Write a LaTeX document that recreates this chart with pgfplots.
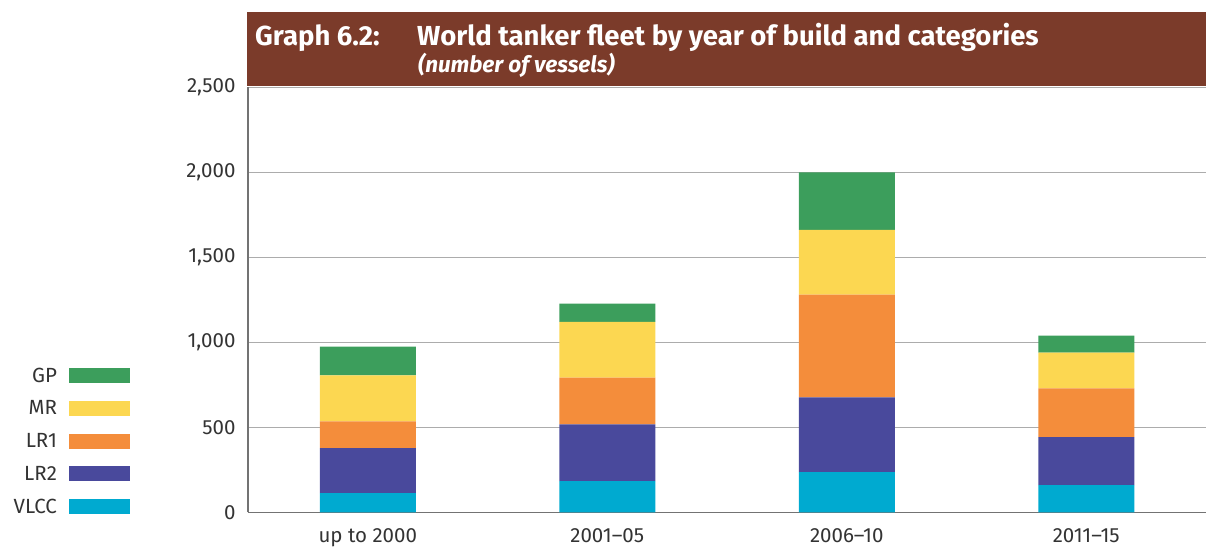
\documentclass[border=0pt]{standalone}
\usepackage{fontspec}
\setmainfont{Fira Sans}
\usepackage{pgfplots}
\pgfplotsset{compat=1.18}
\definecolor{cGP}{HTML}{3C9E5C}
\definecolor{cMR}{HTML}{FCD751}
\definecolor{cLRone}{HTML}{F48D3B}
\definecolor{cLRtwo}{HTML}{49499C}
\definecolor{cVLCC}{HTML}{00AAD0}
\definecolor{hdr}{HTML}{7B3B2A}
\definecolor{txt}{HTML}{333333}
\begin{document}
\begin{tikzpicture}[x=1pt,y=1pt]
\useasboundingbox (0,0) rectangle (1206,548);
\begin{axis}[
  at={(248pt,35.5pt)}, anchor=south west,
  scale only axis, width=958pt, height=425pt,
  ybar stacked, bar width=96pt,
  xmin=-0.5, xmax=3.5, ymin=0, ymax=2500,
  xtick={0,1,2,3},
  xticklabels={up to 2000, 2001–05, 2006–10, 2011–15},
  ytick={0,500,1000,1500,2000,2500},
  ymajorgrids, grid style={draw=gray!65, line width=1.3pt},
  axis x line*=bottom, axis y line*=left,
  axis line style={draw=gray!90!black, line width=1.5pt, -},
  tick style={draw=none},
  /pgf/number format/assume math mode=true,
  /pgf/number format/1000 sep={,},
  ticklabel style={font=\fontsize{20.5}{24}\selectfont, text=txt},
  xticklabel style={anchor=base, yshift=-30.5pt},
  yticklabel style={anchor=east, xshift=-9pt},
  legend plot pos=right,
  reverse legend,
  legend image code/.code={\fill[#1, draw=none] (0pt,-7.5pt) rectangle (61pt,7.5pt);},
  legend style={draw=none, fill=none, inner sep=0pt, outer sep=0pt,
    at={(axis description cs:-0.1232,0.34)}, anchor=north east,
    row sep=17pt, column sep=12pt,
    nodes={inner sep=0pt, font=\fontsize{20.5}{24}\selectfont, text=txt},
    legend cell align=right},
]
\addplot[fill=cVLCC, draw=none] coordinates {(0,114) (1,185) (2,237) (3,161)};
\addplot[fill=cLRtwo, draw=none] coordinates {(0,264) (1,334) (2,440) (3,282)};
\addplot[fill=cLRone, draw=none] coordinates {(0,158) (1,275) (2,604) (3,287)};
\addplot[fill=cMR, draw=none] coordinates {(0,270) (1,328) (2,381) (3,211)};
\addplot[fill=cGP, draw=none] coordinates {(0,170) (1,106) (2,338) (3,99)};
\legend{VLCC, LR2, LR1, MR, GP}
\end{axis}
\fill[hdr] (247,462) rectangle (1206,536);
\node[anchor=base west, inner sep=0pt, text=white, font=\fontsize{27.5}{30}\selectfont\bfseries] at (255,502) {Graph 6.2:};
\node[anchor=base west, inner sep=0pt, text=white, font=\fontsize{27.5}{30}\selectfont\bfseries] at (417,502) {World tanker fleet by year of build and categories};
\node[anchor=base west, inner sep=0pt, text=white, font=\fontsize{22.5}{26}\selectfont\bfseries\itshape] at (418,475) {(number of vessels)};
\end{tikzpicture}
\end{document}
